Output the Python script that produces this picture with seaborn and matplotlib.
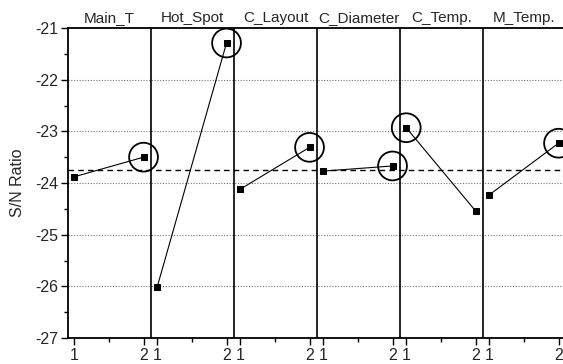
import pandas as pd
import numpy as np
import matplotlib.pyplot as plt
import seaborn as sns

# S/N ratio per factor level
factors = ['Main_T', 'Hot_Spot', 'C_Layout', 'C_Diameter', 'C_Temp.', 'M_Temp.']
level1 = [-23.88, -26.01, -24.12, -23.77, -22.93, -24.23]
level2 = [-23.50, -21.29, -23.31, -23.67, -24.54, -23.23]
mean_sn = -23.75
yticks = [-21, -22, -23, -24, -25, -26, -27]

sns.set_theme(style='white')
plt.rcParams['font.family'] = ['Liberation Sans', 'DejaVu Sans']

# long table: one row per factor level
rows = []
for i, f in enumerate(factors):
    rows.append({'factor': f, 'panel': i, 'level': 1, 'sn': level1[i]})
    rows.append({'factor': f, 'panel': i, 'level': 2, 'sn': level2[i]})
df = pd.DataFrame(rows)

# level position inside each panel (panel i spans [i, i+1])
lev_pos = {1: 0.075, 2: 0.91}
df['x'] = df['panel'] + df['level'].map(lev_pos)

fig = plt.figure(figsize=(5.63, 3.64), dpi=100)
ax = fig.add_axes([68 / 563, 1 - 338 / 364, 498 / 563, 310 / 364])

# dotted grid and mean line
for y in yticks[1:-1]:
    ax.axhline(y, color='#777777', lw=0.8, ls=(0, (1, 1.5)), zorder=0)
ax.axhline(mean_sn, color='black', lw=1.0, ls=(0, (4, 3)), zorder=1)

# panel separators
for i in range(1, len(factors)):
    ax.axvline(i, color='black', lw=1.2, zorder=1)

sns.lineplot(data=df, x='x', y='sn', units='factor', estimator=None,
             color='black', lw=0.8, marker='s', markersize=5,
             markeredgecolor='black', ax=ax, legend=False, zorder=3)

# circle the better level of each factor
best = df.loc[df.groupby('factor')['sn'].idxmax()]
sns.scatterplot(data=best, x='x', y='sn', marker='o', s=430,
                facecolor='none', edgecolor='black', linewidth=1.3,
                ax=ax, legend=False, zorder=4)

# factor names above the top frame
for i, f in enumerate(factors):
    ax.annotate(f, xy=(i + 0.5, 1.0), xycoords=('data', 'axes fraction'),
                xytext=(0, 2), textcoords='offset points',
                ha='center', va='bottom', fontsize=11)

ax.set_xlim(0, 6)
ax.set_ylim(-27, -21)
ax.set_yticks(yticks)
ax.set_yticklabels([str(v) for v in yticks], fontsize=11.5)
ax.set_yticks(np.arange(-26.5, -21, 1.0), minor=True)

xt = list(df['x'])
ax.set_xticks(xt)
ax.set_xticklabels([str(v) for v in df['level']], fontsize=11.5)
ax.set_xticks(np.arange(len(factors)) + 0.5, minor=True)

ax.tick_params(axis='both', which='major', direction='out', length=5,
               width=1, color='black', pad=2, bottom=True, left=True)
ax.tick_params(axis='both', which='minor', direction='out', length=3,
               width=1, color='black', bottom=True, left=True)

ax.set_xlabel('')
ax.set_ylabel('S/N Ratio', fontsize=11.5, labelpad=7)

for side in ['left', 'bottom', 'top']:
    ax.spines[side].set_color('black')
    ax.spines[side].set_linewidth(1.3)
ax.spines['right'].set_visible(False)

fig.savefig('out.png', dpi=100)
